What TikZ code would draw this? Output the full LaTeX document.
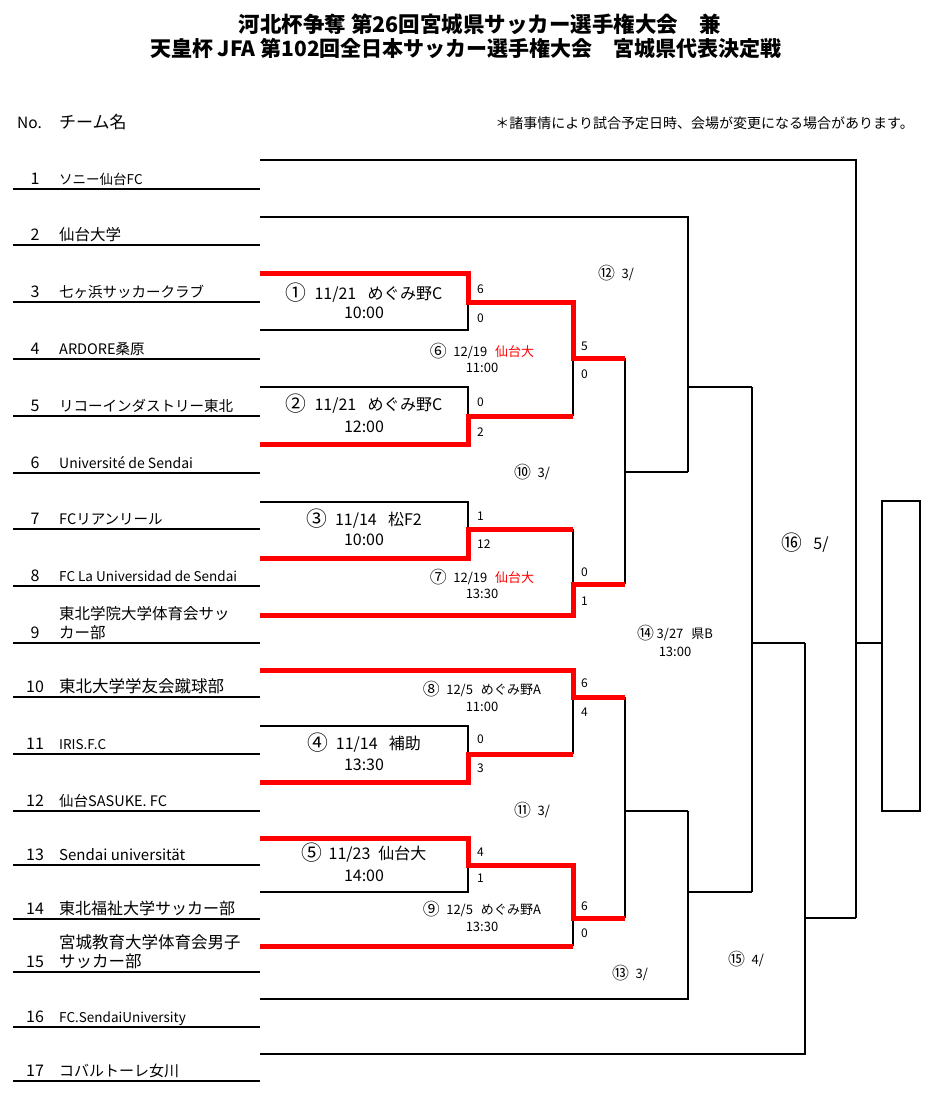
\documentclass[tikz,border=0pt]{standalone}
\usepackage{fontspec}
\setmainfont{Noto Sans CJK JP}[BoldFont=* Black]
\newcommand{\cnum}[1]{\raisebox{-0.08em}{\scalebox{1.3}{#1}}}
\begin{document}
\begin{tikzpicture}[x=1pt,y=-1pt,
  bl/.style={line width=2.4pt,black,line join=miter},
  rd/.style={line width=5pt,red,line join=miter},
  tnum/.style={anchor=base,inner sep=0,font=\fontsize{16}{16}\selectfont},
  tname/.style={anchor=base west,inner sep=0},
  sc/.style={anchor=base west,inner sep=0,font=\fontsize{12}{12}\selectfont},
  lab/.style={anchor=base,inner sep=0,font=\fontsize{13}{14}\selectfont},
  mbox/.style={anchor=base,inner sep=0,font=\fontsize{16}{17}\selectfont},
  ttl/.style={anchor=base,inner sep=0,font=\bfseries}]
\useasboundingbox (0,0) rectangle (939,1095);
% title
\node[ttl,font=\fontsize{21.5}{22}\selectfont\bfseries] (t1) at (480,32) {河北杯争奪 第26回宮城県サッカー選手権大会　兼};
\node[ttl,font=\fontsize{21}{22}\selectfont\bfseries] (t2) at (466,56) {天皇杯 JFA 第102回全日本サッカー選手権大会　宮城県代表決定戦};
\node[anchor=base west,inner sep=0,font=\fontsize{15.5}{16}\selectfont] (hno) at (17,128) {No.};
\node[anchor=base west,inner sep=0,font=\fontsize{17}{18}\selectfont] (hname) at (59,128) {チーム名};
\node[anchor=base east,inner sep=0,font=\fontsize{14}{15}\selectfont] (note) at (914,128) {＊諸事情により試合予定日時、会場が変更になる場合があります。};
% team underlines
\foreach \u [count=\k] in {189,245,302,359,416,473,529,586,643,697,754,811,865,919,972,1027,1081}{
  \draw[bl] (13,\u) coordinate (ul\k a) -- (260,\u) coordinate (ul\k b);
}
% team numbers and names
\foreach \k/\u in {1/189,2/245,3/302,4/359,5/416,6/473,7/529,8/586,9/643,10/697,11/754,12/811,13/865,14/919,15/972,16/1027,17/1081}{
  \node[tnum] (n\k) at (35,\u-5) {\k};
}
\node[tname,font=\fontsize{13.5}{14}\selectfont] (m1) at (59,184) {ソニー仙台FC};
\node[tname,font=\fontsize{15.5}{16}\selectfont] (m2) at (59,240) {仙台大学};
\node[tname,font=\fontsize{14.5}{16}\selectfont] (m3) at (59,297) {七ヶ浜サッカークラブ};
\node[tname,font=\fontsize{14.5}{16}\selectfont] (m4) at (59,354) {ARDORE桑原};
\node[tname,font=\fontsize{14.5}{16}\selectfont] (m5) at (59,411) {リコーインダストリー東北};
\node[tname,font=\fontsize{14}{16}\selectfont] (m6) at (59,468) {Université de Sendai};
\node[tname,font=\fontsize{14.5}{16}\selectfont] (m7) at (59,524) {FCリアンリール};
\node[tname,font=\fontsize{13.5}{16}\selectfont] (m8) at (59,581) {FC La Universidad de Sendai};
\node[tname,font=\fontsize{15.5}{16}\selectfont] (m9a) at (59,619) {東北学院大学体育会サッ};
\node[tname,font=\fontsize{15.5}{16}\selectfont] (m9b) at (59,638) {カー部};
\node[tname,font=\fontsize{16.5}{16}\selectfont] (m10) at (59,692) {東北大学学友会蹴球部};
\node[tname,font=\fontsize{13.5}{16}\selectfont] (m11) at (59,749) {IRIS.F.C};
\node[tname,font=\fontsize{14.5}{16}\selectfont] (m12) at (59,806) {仙台SASUKE. FC};
\node[tname,font=\fontsize{15}{16}\selectfont] (m13) at (59,860) {Sendai universität};
\node[tname,font=\fontsize{16}{16}\selectfont] (m14) at (59,914) {東北福祉大学サッカー部};
\node[tname,font=\fontsize{16.5}{16}\selectfont] (m15a) at (59,948) {宮城教育大学体育会男子};
\node[tname,font=\fontsize{16.5}{16}\selectfont] (m15b) at (59,967) {サッカー部};
\node[tname,font=\fontsize{13.5}{16}\selectfont] (m16) at (59,1022) {FC.SendaiUniversity};
\node[tname,font=\fontsize{15}{16}\selectfont] (m17) at (59,1076) {コバルトーレ女川};
% ---- black bracket lines
% round 1 boxes
\draw[bl] (260,330) -- (468,330) -- (468,302);
\draw[bl] (260,387) -- (468,387) -- (468,416);
\draw[bl] (260,502) -- (468,502) -- (468,529);
\draw[bl] (260,726) -- (468,726) -- (468,754);
\draw[bl] (260,892) -- (468,892) -- (468,865);
% round 2 verticals
\draw[bl] (573,358) -- (573,416);
\draw[bl] (573,529) -- (573,584);
\draw[bl] (573,697) -- (573,754);
\draw[bl] (573,918) -- (573,946);
% 10 and 11
\draw[bl] (625,358) -- (625,584);
\draw[bl] (625,472) -- (688,472);
\draw[bl] (625,697) -- (625,918);
\draw[bl] (625,811) -- (688,811);
% 12
\draw[bl] (260,217) -- (688,217) -- (688,472);
\draw[bl] (688,387) -- (752,387);
% 13
\draw[bl] (260,999) -- (688,999) -- (688,811);
\draw[bl] (688,892) -- (752,892);
% 14
\draw[bl] (752,387) -- (752,892);
\draw[bl] (752,643) -- (805,643);
% 15
\draw[bl] (260,1054) -- (805,1054) -- (805,643);
\draw[bl] (805,918) -- (856,918);
% 16
\draw[bl] (260,160) -- (856,160) -- (856,918);
\draw[bl] (856,643) -- (883,643);
% champion box
\draw[bl] (882,501) rectangle (920,811);
% ---- red winner paths
\draw[rd] (260,273) -- (468,273) -- (468,302) -- (573,302) -- (573,358) -- (625,358);
\draw[rd] (260,444) -- (468,444) -- (468,416) -- (573,416);
\draw[rd] (260,558) -- (468,558) -- (468,529) -- (573,529);
\draw[rd] (260,615) -- (573,615) -- (573,584) -- (625,584);
\draw[rd] (260,670) -- (573,670) -- (573,697) -- (625,697);
\draw[rd] (260,782) -- (468,782) -- (468,754) -- (573,754);
\draw[rd] (260,838) -- (468,838) -- (468,865) -- (573,865) -- (573,918) -- (625,918);
\draw[rd] (260,946) -- (573,946);
% ---- round 1 labels
\node[mbox] (b1a) at (364,299) {\cnum{①}\hspace{0.5em}11/21\hspace{0.7em}めぐみ野C};
\node[mbox] (b1b) at (364,318) {10:00};
\node[mbox] (b2a) at (364,410) {\cnum{②}\hspace{0.5em}11/21\hspace{0.7em}めぐみ野C};
\node[mbox] (b2b) at (364,432) {12:00};
\node[mbox] (b3a) at (364,525) {\cnum{③}\hspace{0.5em}11/14\hspace{0.7em}松F2};
\node[mbox] (b3b) at (364,545) {10:00};
\node[mbox] (b4a) at (364,749) {\cnum{④}\hspace{0.5em}11/14\hspace{0.7em}補助};
\node[mbox] (b4b) at (364,770) {13:30};
\node[mbox] (b5a) at (364,859) {\cnum{⑤}\hspace{0.4em}11/23\hspace{0.5em}仙台大};
\node[mbox] (b5b) at (364,881) {14:00};
% scores
\node[sc] at (477,293) {6};  \node[sc] at (477,322) {0};
\node[sc] at (477,406) {0};  \node[sc] at (477,436) {2};
\node[sc] at (477,520) {1};  \node[sc] at (477,548) {12};
\node[sc] at (477,743) {0};  \node[sc] at (477,772) {3};
\node[sc] at (477,856) {4};  \node[sc] at (477,882) {1};
\node[sc] at (581,350) {5};  \node[sc] at (581,378) {0};
\node[sc] at (581,576) {0};  \node[sc] at (581,605) {1};
\node[sc] at (581,687) {6};  \node[sc] at (581,716) {4};
\node[sc] at (581,910) {6};  \node[sc] at (581,937) {0};
% round 2+ labels
\node[lab] (l6a) at (482,356) {\cnum{⑥}\hspace{0.5em}12/19\hspace{0.6em}\textcolor{red}{仙台大}};
\node[lab] (l6b) at (482,372) {11:00};
\node[lab] (l7a) at (482,582) {\cnum{⑦}\hspace{0.5em}12/19\hspace{0.6em}\textcolor{red}{仙台大}};
\node[lab] (l7b) at (482,598) {13:30};
\node[lab] (l8a) at (482,694) {\cnum{⑧}\hspace{0.5em}12/5\hspace{0.6em}めぐみ野A};
\node[lab] (l8b) at (482,711) {11:00};
\node[lab] (l9a) at (482,914) {\cnum{⑨}\hspace{0.5em}12/5\hspace{0.6em}めぐみ野A};
\node[lab] (l9b) at (482,931) {13:30};
\node[lab] (l12) at (616,278) {\cnum{⑫}\hspace{0.5em}3/};
\node[lab] (l10) at (532,477) {\cnum{⑩}\hspace{0.5em}3/};
\node[lab] (l11) at (532,815) {\cnum{⑪}\hspace{0.5em}3/};
\node[lab] (l13) at (630,978) {\cnum{⑬}\hspace{0.5em}3/};
\node[lab] (l14a) at (675,638) {\cnum{⑭}\hspace{0.2em}3/27\hspace{0.6em}県B};
\node[lab] (l14b) at (675,656) {13:00};
\node[lab] (l15) at (746,964) {\cnum{⑮}\hspace{0.5em}4/};
\node[anchor=base,inner sep=0,font=\fontsize{16}{17}\selectfont] (l16) at (805,549) {\cnum{⑯}\hspace{0.7em}5/};
\end{tikzpicture}
\end{document}
